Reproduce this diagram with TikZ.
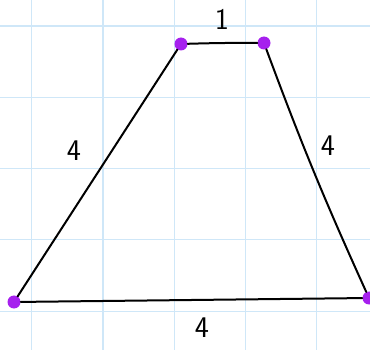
\documentclass[tikz,border=0pt]{standalone}
\usepackage{xcolor}
\usepackage{tikz}
\definecolor{dotpurple}{HTML}{A620EE}
\definecolor{gridblue}{HTML}{CFE7F8}

\begin{document}
\begin{tikzpicture}[
    x=1pt, y=-1pt, font=\fontsize{30}{30}\selectfont\sffamily,
    dot/.style={circle, fill=dotpurple, inner sep=0pt, minimum size=13pt},
    side/.style={line width=2pt, line cap=round, line join=round},
    gridline/.style={gridblue, line width=1.2pt},
    len/.style={inner sep=0pt}]
    \useasboundingbox (0,0) rectangle (370,350);
    \foreach \x in {31.7,102.9,174.1,245.3,316.5} {\draw[gridline] (\x,0) -- (\x,350);}
    \foreach \y in {26,97.3,168.6,239.9,311.2} {\draw[gridline] (0,\y) -- (370,\y);}
    \node[dot] (tl) at (181,44) {};
    \node[dot] (tr) at (264,43) {};
    \node[dot] (bl) at (14,302) {};
    \node[dot] (br) at (369,298) {};
    \draw[side] (tl) to[bend left=1] (tr);
    \draw[side] (tr) to[bend right=2] (br);
    \draw[side] (br) -- (bl);
    \draw[side] (bl) -- (tl);
    \node[len] (ltop) at (222,19) {1};
    \node[len] (lleft) at (74,151) {4};
    \node[len] (lright) at (328,146) {4};
    \node[len] (lbot) at (202,328) {4};
\end{tikzpicture}
\end{document}
